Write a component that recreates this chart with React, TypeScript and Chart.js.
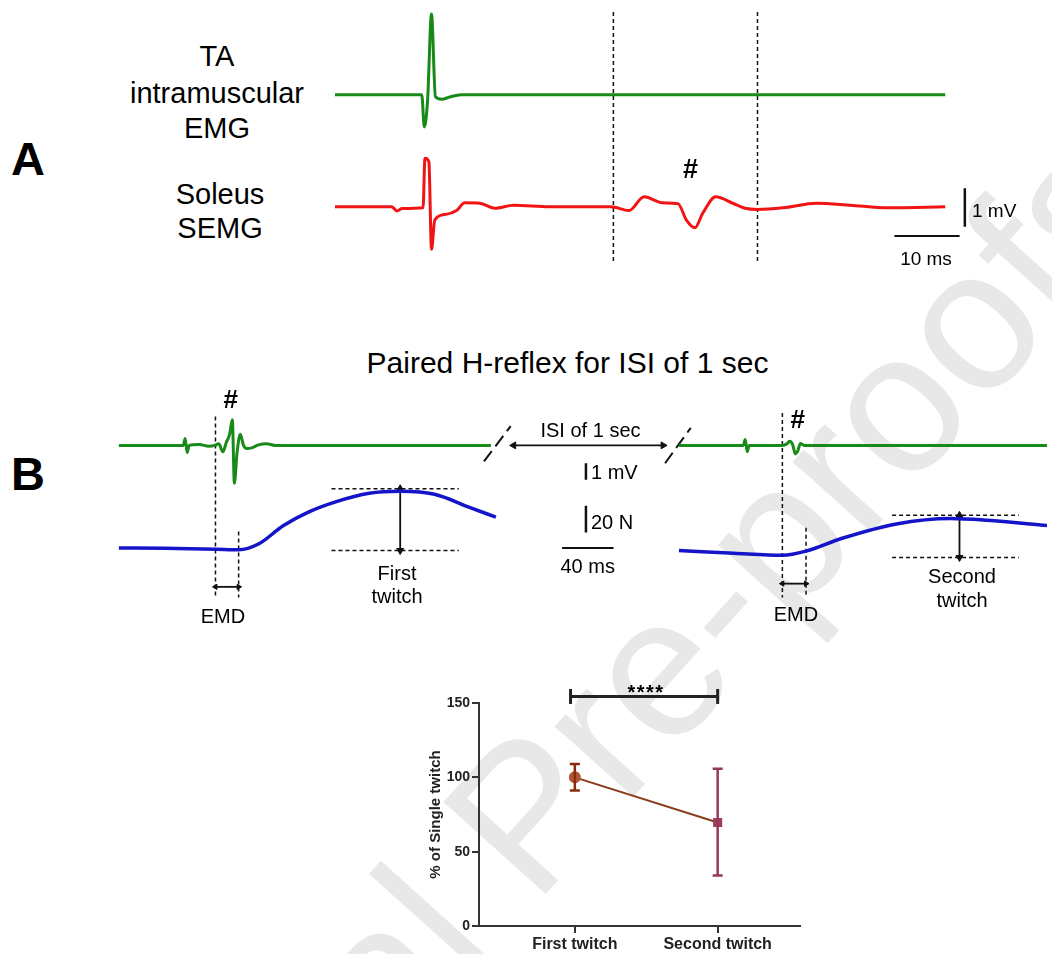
import React, { useEffect, useRef } from "react";
import { Chart, registerables } from "chart.js";
Chart.register(...registerables);

const FONT = '"Liberation Sans", Arial, Helvetica, sans-serif';
Chart.defaults.font.family = FONT;

// ---------- Panel A: time (ms) and amplitude (mV) ----------
const A_TA_T = [0, 13.3, 13.7, 14.2, 14.8, 15.4, 16.4, 17.6, 19.3, 93.6];
const A_TA_MV = [0, 0, -0.84, -0.14, 2.1, -0.05, -0.12, -0.06, 0, 0];
const A_SOL_T = [0, 8.7, 9.5, 10.3, 13.5, 13.8, 14.4, 14.8, 15.3, 17.0, 18.7, 19.9, 22.2, 24.5, 27.4, 32.9, 42.3, 45.1, 47.4, 50.3, 52.6, 53.9, 55.2, 56.4, 58.4, 61.0, 62.9, 64.8, 68.7, 73.9, 79.0, 84.8, 93.6];
const A_SOL_MV = [0, 0, -0.11, -0.05, -0.03, 1.26, 1.17, -1.11, -0.35, -0.2, -0.09, 0.1, 0.09, -0.04, 0.04, 0, 0, -0.1, 0.26, 0.1, 0.08, -0.35, -0.55, -0.17, 0.26, 0.09, -0.04, -0.07, -0.03, 0.09, 0.04, -0.03, 0];
const A_WINDOW_MS = [42.7, 64.8];
const A_WINDOW_MV = [5.07, -1.47];
const A_BAR_MS = [85.8, 95.8];
const A_BAR_X_MS = 96.6;
const A_BAR_MV = [0.48, -0.52];
const A_BAR_Y_MV = -0.76;

// ---------- Panel B: time from stimulus (ms), EMG (mV), force (N) ----------
const B_ISI_GAP_MS = 435; // display offset of the second stimulus
const B_TA1_T = [-52.3, -2.3, -0.8, 0.8, 2.3, 10, 17.7, 22.3, 25.4, 28.5, 31.3, 33.8, 35.9, 37.5, 39.5, 42.1, 44.6, 47.2, 51, 56.2, 62.5, 69, 236.9];
const B_TA1_MV = [0, 0, 0.42, -0.43, 0, 0.05, -0.05, 0, 0.1, -0.39, 0.19, 0.67, 1.54, -2.28, -0.5, 0.67, 0, -0.19, -0.15, 0.03, 0.1, 0, 0];
const B_F1_T = [-52.3, -16.9, 23.1, 40.8, 56.2, 75.4, 94.6, 116.2, 142.3, 166.2, 193.1, 219.2, 240.8];
const B_F1_N = [1.4, 1.1, 0.4, 0, 4.3, 17.9, 27.9, 35.7, 42.1, 43.6, 41.4, 32.1, 24.3];
const B_TA2_T = [-51.9, -1.9, -0.4, 1.2, 2.7, 28.1, 32.2, 34, 36.5, 38.6, 40.4, 42.5, 45.5, 234.2];
const B_TA2_MV = [0, 0, 0.35, -0.38, 0, 0, 0.1, 0.25, 0.05, -0.52, -0.35, 0.12, 0, 0];
const B_F2_T = [-51.9, -9.2, 28.6, 46.9, 75, 117.1, 159.2, 187.3, 234.2];
const B_F2_N = [-0.5, -2.6, -4.1, -1.0, 8.6, 19.3, 23.4, 22.1, 18.1];

// annotation values (ms / N / mV)
const B_EMD1_MS = [22.8, 40.8];
const B_EMD1_TOP_N = [99.3, 13.6];
const B_EMD1_ARROW_N = -27.6;
const B_EMD2_MS = [28.5, 46.9];
const B_EMD2_TOP_N = [102, 16.4];
const B_EMD2_ARROW_N = -25.2;
const B_EMD_BOTTOM_N = -35.5;
const B_TW1_MS = [113, 212];
const B_TW1_N = [45.5, -0.5];
const B_TW1_ARROW_MS = 166.4;
const B_TW2_MS = [113.8, 212.3];
const B_TW2_N = [25.7, -5.7];
const B_TW2_ARROW_MS = 166.2;
const B_ISI_ARROW_MS = [254.6, 370.8];
const B_BREAK1 = { t: [231.5, 252.3], mv: [-0.97, 1.16] };
const B_BREAK2 = { t: [372.3, 392.3], mv: [-1.08, 1.06] };
const B_SCALE_X_MS = 310.8;
const B_MV_BAR = [-1.08, -2.08];
const B_N_BAR = [32.9, 12.9];
const B_MS_BAR = [292.3, 332.3];
const B_MS_BAR_N = 1.4;

// ---------- Bottom plot ----------
const TWITCH_LABELS = ["First twitch", "Second twitch"];
const TWITCH_MEAN = [100, 69.6];
const TWITCH_LOW = [91.1, 33.9];
const TWITCH_HIGH = [108.9, 105.7];
const Y_TICKS = [0, 50, 100, 150];
const SIG_X = [-0.03, 1];
const SIG_Y = 154.4;

const GREEN = "#178a17";
const RED = "#f01414";
const BLUE = "#1414c8";

const pts = (xs: number[], ys: number[], dx = 0) => xs.map((x, i) => ({ x: x + dx, y: ys[i] }));

const seg = (xs: number[], ys: number[], axis: string, extra: any = {}) => ({
  data: pts(xs, ys),
  yAxisID: axis,
  borderColor: "#111",
  borderWidth: 1.5,
  pointRadius: 0,
  fill: false,
  ...extra,
});

const dashed = (xs: number[], ys: number[], axis: string) => seg(xs, ys, axis, { borderDash: [4, 3], borderWidth: 1.5 });

const arrow = (xs: number[], ys: number[], axis: string, rot: number[], r = 4) =>
  seg(xs, ys, axis, {
    borderWidth: 1.8,
    pointStyle: "triangle",
    pointRadius: r,
    pointRotation: rot,
    pointBackgroundColor: "#111",
    pointBorderColor: "#111",
    pointBorderWidth: 1,
  });

const trace = (xs: number[], ys: number[], axis: string, color: string, w: number, dx = 0) => ({
  data: pts(xs, ys, dx),
  yAxisID: axis,
  borderColor: color,
  borderWidth: w,
  pointRadius: 0,
  cubicInterpolationMode: "monotone",
  fill: false,
});

const hiddenOpts = (scales: any) => ({
  responsive: false,
  animation: false,
  events: [],
  plugins: { legend: { display: false }, tooltip: { enabled: false } },
  layout: { padding: 0 },
  scales,
});

function makePanelA() {
  return {
    type: "line",
    data: {
      datasets: [
        trace(A_TA_T, A_TA_MV, "yG", GREEN, 3),
        trace(A_SOL_T, A_SOL_MV, "yR", RED, 3),
        dashed([A_WINDOW_MS[0], A_WINDOW_MS[0]], A_WINDOW_MV, "yR"),
        dashed([A_WINDOW_MS[1], A_WINDOW_MS[1]], A_WINDOW_MV, "yR"),
        seg([A_BAR_X_MS, A_BAR_X_MS], A_BAR_MV, "yR", { borderWidth: 2.5 }),
        seg(A_BAR_MS, [A_BAR_Y_MV, A_BAR_Y_MV], "yR", { borderWidth: 2 }),
      ],
    },
    options: hiddenOpts({
      x: { type: "linear", display: false, min: 0, max: 660 / 6.52 },
      yG: { type: "linear", display: false, min: -4.826, max: 2.466 },
      yR: { type: "linear", display: false, min: -1.909, max: 5.383 },
    }),
  };
}

function makePanelB() {
  const g = B_ISI_GAP_MS;
  return {
    type: "line",
    data: {
      datasets: [
        trace(B_TA1_T, B_TA1_MV, "yG", GREEN, 3),
        trace(B_TA2_T, B_TA2_MV, "yG", GREEN, 3, g),
        trace(B_F1_T, B_F1_N, "yF", BLUE, 3.5),
        trace(B_F2_T, B_F2_N, "yF", BLUE, 3.5, g),
        dashed([B_EMD1_MS[0], B_EMD1_MS[0]], [B_EMD1_TOP_N[0], B_EMD_BOTTOM_N], "yF"),
        dashed([B_EMD1_MS[1], B_EMD1_MS[1]], [B_EMD1_TOP_N[1], B_EMD_BOTTOM_N], "yF"),
        arrow(B_EMD1_MS, [B_EMD1_ARROW_N, B_EMD1_ARROW_N], "yF", [270, 90], 3),
        dashed([B_EMD2_MS[0] + g, B_EMD2_MS[0] + g], [B_EMD2_TOP_N[0], B_EMD_BOTTOM_N], "yF"),
        dashed([B_EMD2_MS[1] + g, B_EMD2_MS[1] + g], [B_EMD2_TOP_N[1], B_EMD_BOTTOM_N], "yF"),
        arrow([B_EMD2_MS[0] + g, B_EMD2_MS[1] + g], [B_EMD2_ARROW_N, B_EMD2_ARROW_N], "yF", [270, 90], 3),
        dashed(B_TW1_MS, [B_TW1_N[0], B_TW1_N[0]], "yF"),
        dashed(B_TW1_MS, [B_TW1_N[1], B_TW1_N[1]], "yF"),
        arrow([B_TW1_ARROW_MS, B_TW1_ARROW_MS], B_TW1_N, "yF", [0, 180]),
        dashed([B_TW2_MS[0] + g, B_TW2_MS[1] + g], [B_TW2_N[0], B_TW2_N[0]], "yF"),
        dashed([B_TW2_MS[0] + g, B_TW2_MS[1] + g], [B_TW2_N[1], B_TW2_N[1]], "yF"),
        arrow([B_TW2_ARROW_MS + g, B_TW2_ARROW_MS + g], B_TW2_N, "yF", [0, 180]),
        arrow(B_ISI_ARROW_MS, [0, 0], "yG", [270, 90]),
        seg(B_BREAK1.t, B_BREAK1.mv, "yG", { borderDash: [13, 6], borderWidth: 2 }),
        seg(B_BREAK2.t, B_BREAK2.mv, "yG", { borderDash: [13, 6], borderWidth: 2 }),
        seg([B_SCALE_X_MS, B_SCALE_X_MS], B_MV_BAR, "yG", { borderWidth: 2.5 }),
        seg([B_SCALE_X_MS, B_SCALE_X_MS], B_N_BAR, "yF", { borderWidth: 2.5 }),
        seg(B_MS_BAR, [B_MS_BAR_N, B_MS_BAR_N], "yF", { borderWidth: 2 }),
      ],
    },
    options: hiddenOpts({
      x: { type: "linear", display: false, min: -63.08, max: -63.08 + 952 / 1.3 },
      yG: { type: "linear", display: false, min: -10.231, max: 3.642 },
      yF: { type: "linear", display: false, min: -48.571, max: 122.857 },
    }),
  };
}

function makeTwitchPlot() {
  const pointColors = ["#b0573a", "#9c3c5e"];
  const errColors = ["#8a2c0c", "#97385a"];
  const axisGrid = { display: true, drawOnChartArea: false, drawTicks: true, tickLength: 7, color: "#333", lineWidth: 2 };
  const axisBorder = { display: true, color: "#333", width: 2 };
  return {
    type: "line",
    data: {
      datasets: [
        ...TWITCH_MEAN.map((_, i) => ({
          data: [{ x: i, y: TWITCH_LOW[i] }, { x: i, y: TWITCH_HIGH[i] }],
          borderColor: errColors[i],
          borderWidth: 2.5,
          pointStyle: "line",
          pointRadius: 5,
          pointBorderColor: errColors[i],
          pointBorderWidth: 2.5,
        })),
        {
          data: TWITCH_MEAN.map((y, i) => ({ x: i, y })),
          borderColor: "#8b3a1a",
          borderWidth: 2,
          pointStyle: ["circle", "rect"],
          pointRadius: 5,
          pointBackgroundColor: pointColors,
          pointBorderColor: pointColors,
        },
        {
          data: SIG_X.map((x) => ({ x, y: SIG_Y })),
          borderColor: "#222",
          borderWidth: 3,
          pointStyle: "line",
          pointRotation: 90,
          pointRadius: 7.5,
          pointBorderColor: "#222",
          pointBorderWidth: 3,
          clip: false,
        },
      ],
    },
    options: {
      responsive: false,
      animation: false,
      events: [],
      plugins: { legend: { display: false }, tooltip: { enabled: false } },
      layout: { padding: { top: 33, right: 10, left: 0, bottom: 0 } },
      scales: {
        x: {
          type: "linear",
          min: -0.671,
          max: 1.573,
          afterBuildTicks: (s: any) => {
            s.ticks = TWITCH_LABELS.map((_, i) => ({ value: i }));
          },
          afterFit: (s: any) => {
            s.height = 28;
          },
          ticks: {
            callback: (v: any) => TWITCH_LABELS[v],
            font: { size: 16, weight: "bold" },
            color: "#222",
            padding: 2,
            maxRotation: 0,
            autoSkip: false,
          },
          grid: axisGrid,
          border: axisBorder,
        },
        y: {
          min: 0,
          max: 150,
          afterBuildTicks: (s: any) => {
            s.ticks = Y_TICKS.map((v) => ({ value: v }));
          },
          afterFit: (s: any) => {
            s.width = 79;
          },
          ticks: { font: { size: 14, weight: "bold" }, color: "#222", padding: 2 },
          grid: axisGrid,
          border: axisBorder,
          title: {
            display: true,
            text: "% of Single twitch",
            font: { size: 15, weight: "bold" },
            color: "#222",
            padding: { top: 26.5, bottom: 0 },
          },
        },
      },
    },
  };
}

function ChartCanvas({ left, top, width, height, make }: { left: number; top: number; width: number; height: number; make: () => any }) {
  const ref = useRef<HTMLCanvasElement>(null);
  useEffect(() => {
    const chart = new Chart(ref.current as HTMLCanvasElement, make());
    return () => chart.destroy();
  }, []);
  return <canvas ref={ref} width={width} height={height} style={{ position: "absolute", left, top, width, height }} />;
}

function Label({ x, y, size, bold = false, align = "center", children }: { x: number; y: number; size: number; bold?: boolean; align?: string; children: any }) {
  return (
    <div
      style={{
        position: "absolute",
        left: x,
        top: y - 0.8465 * size,
        fontSize: size,
        lineHeight: 1,
        fontWeight: bold ? "bold" : "normal",
        transform: align === "center" ? "translateX(-50%)" : undefined,
        whiteSpace: "nowrap",
        color: "#000",
      }}
    >
      {children}
    </div>
  );
}

export default function App() {
  return (
    <div style={{ position: "absolute", left: 0, top: 0, width: 1052, height: 954, overflow: "hidden", background: "#fff", fontFamily: FONT }}>
      <div
        style={{
          position: "absolute",
          left: -67,
          top: 1322,
          fontSize: 200,
          lineHeight: 1,
          color: "#e8e8e8",
          whiteSpace: "nowrap",
          transform: "rotate(-48deg)",
          transformOrigin: "0 0",
        }}
      >
        Journal Pre-proofs
      </div>

      <ChartCanvas left={335} top={0} width={660} height={280} make={makePanelA} />
      <ChartCanvas left={100} top={380} width={952} height={240} make={makePanelB} />
      <ChartCanvas left={400} top={670} width={410} height={284} make={makeTwitchPlot} />

      {/* Panel A labels */}
      <Label x={28} y={175} size={47} bold>A</Label>
      <Label x={217} y={67} size={29}>TA</Label>
      <Label x={217} y={104} size={29}>intramuscular</Label>
      <Label x={217} y={138.5} size={29}>EMG</Label>
      <Label x={220} y={205} size={29}>Soleus</Label>
      <Label x={220} y={238.5} size={29}>SEMG</Label>
      <Label x={690.5} y={179} size={27} bold>#</Label>
      <Label x={972} y={217} size={19} align="left">1 mV</Label>
      <Label x={926} y={265} size={19}>10 ms</Label>

      {/* Panel B labels */}
      <Label x={567.5} y={373} size={30}>Paired H-reflex for ISI of 1 sec</Label>
      <Label x={28} y={490} size={47} bold>B</Label>
      <Label x={230.7} y={408} size={26} bold>#</Label>
      <Label x={797.7} y={428} size={26} bold>#</Label>
      <Label x={590.5} y={437} size={20}>ISI of 1 sec</Label>
      <Label x={591} y={479} size={20} align="left">1 mV</Label>
      <Label x={591} y={529} size={20} align="left">20 N</Label>
      <Label x={587.7} y={573} size={20}>40 ms</Label>
      <Label x={397} y={580} size={20}>First</Label>
      <Label x={397} y={603} size={20}>twitch</Label>
      <Label x={223} y={623} size={20}>EMD</Label>
      <Label x={796} y={621} size={20}>EMD</Label>
      <Label x={962} y={583} size={20}>Second</Label>
      <Label x={962} y={607} size={20}>twitch</Label>

      {/* Bottom plot label */}
      <Label x={646} y={699} size={20} bold>
        <span style={{ letterSpacing: 1.5 }}>****</span>
      </Label>
    </div>
  );
}
